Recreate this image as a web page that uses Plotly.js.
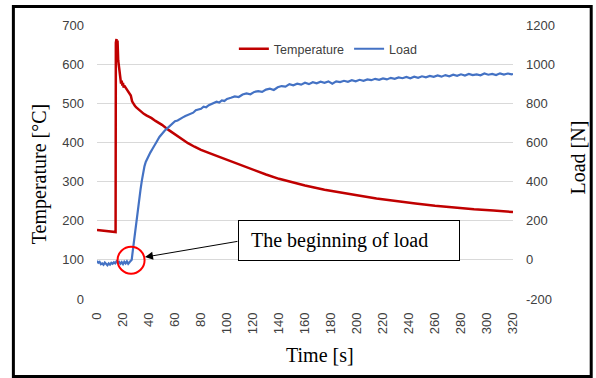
<!DOCTYPE html>
<html>
<head>
<meta charset="utf-8">
<script src="https://cdn.plot.ly/plotly-3.0.1.min.js"></script>
<style>html,body{margin:0;padding:0;background:#fff;}#chart{width:596px;height:378px;}</style>
</head>
<body>
<div id="chart"></div>
<script>
// Temperature series [°C] vs time [s]
const tempTime = [0, 5, 10, 14, 14.3, 14.5, 15, 15.4, 15.8, 16.3, 17, 17.5, 18, 18.5, 19, 19.5, 20, 20.5, 21, 22, 23, 24, 25, 26, 27, 28, 29, 30, 32, 34, 36, 38, 40, 42, 45, 50, 55, 60, 65, 70, 75, 80, 90, 100, 110, 120, 130, 140, 150, 160, 175, 190, 200, 215, 230, 245, 260, 275, 290, 305, 315, 320];
const tempValues = [176, 174, 172, 171, 171, 655, 664, 640, 660, 610, 585, 570, 560, 550, 558, 545, 552, 540, 545, 540, 535, 532, 528, 520, 505, 498, 494, 490, 484, 478, 473, 469, 466, 462, 455, 445, 432, 420, 408, 398, 389, 381, 368, 355, 342, 330, 318, 307, 298, 290, 279, 270, 265, 257, 250, 244, 238, 233, 229, 226, 223, 222];

// Load series [N] vs time [s]
const loadTime = [0, 1, 2, 3, 4, 5, 6, 7, 8, 9, 10, 11, 12, 13, 14, 15, 16, 17, 18, 19, 20, 21, 22, 23, 24, 25, 26, 26.7, 27.5, 28.5, 29.5, 30.5, 31.5, 32.5, 33.5, 34.5, 35.5, 36.5, 37.5, 38.5, 39.5, 41, 42.5, 44, 46, 48, 50, 52, 54, 56, 58, 60, 62, 64, 66, 68, 70, 72, 74, 76, 78, 80, 82, 84, 86, 88, 90, 92, 94, 96, 98, 100, 103, 106, 109, 112, 115, 118, 121, 124, 127, 130, 133, 136, 139, 142, 145, 148, 151, 154, 157, 160, 163, 166, 169, 172, 175, 178, 181, 184, 187, 190, 193, 196, 199, 202, 205, 208, 211, 214, 217, 220, 223, 226, 229, 232, 235, 238, 241, 244, 247, 250, 253, 256, 259, 262, 265, 268, 271, 274, 277, 280, 283, 286, 289, 292, 295, 298, 301, 304, 307, 310, 313, 316, 319, 320];
const loadValues = [-5, -15, -10, -22, -18, -25, -14, -20, -28, -18, -24, -15, -20, -12, -18, -8, -16, -10, -20, -12, -22, -10, -18, -8, -20, -12, -6, 0, 45, 100, 160, 220, 265, 306, 360, 405, 450, 478, 500, 515, 530, 548, 565, 585, 605, 628, 645, 660, 672, 685, 695, 708, 712, 722, 728, 735, 742, 748, 752, 765, 770, 772, 783, 780, 790, 795, 800, 808, 804, 815, 812, 822, 828, 835, 832, 845, 850, 846, 858, 862, 858, 870, 875, 868, 882, 888, 885, 898, 892, 900, 895, 905, 898, 908, 902, 910, 905, 912, 900, 912, 908, 915, 910, 918, 912, 920, 915, 922, 918, 925, 920, 927, 922, 930, 925, 932, 928, 935, 928, 936, 930, 938, 933, 940, 935, 942, 936, 944, 938, 946, 940, 948, 942, 950, 944, 948, 943, 952, 946, 950, 944, 953, 947, 952, 948, 950];

const xTicks = [0, 20, 40, 60, 80, 100, 120, 140, 160, 180, 200, 220, 240, 260, 280, 300, 320];
const yLeftTicks = [0, 100, 200, 300, 400, 500, 600, 700];
const yRightTicks = [-200, 0, 200, 400, 600, 800, 1000, 1200];
const seriesNames = ['Temperature', 'Load'];
const axisTitles = {x: 'Time [s]', yLeft: 'Temperature [°C]', yRight: 'Load [N]'};
const calloutText = 'The beginning of load';
// marked point (beginning of load): time, temperature-axis value
const markTime = 26.2, markTemp = 99;
const arrowTip = [36.9, 107];

const serif = 'Liberation Serif, Times New Roman, serif';
const sans = 'Liberation Sans, Arial, sans-serif';

const traces = [
  {x: tempTime, y: tempValues, name: seriesNames[0], type: 'scatter', mode: 'lines',
   line: {color: '#C00000', width: 2.5}, yaxis: 'y'},
  {x: loadTime, y: loadValues, name: seriesNames[1], type: 'scatter', mode: 'lines',
   line: {color: '#4472C4', width: 2.2}, yaxis: 'y2'}
];

const layout = {
  width: 596, height: 378,
  margin: {l: 97, r: 83, t: 25, b: 79, pad: 0},
  paper_bgcolor: '#fff', plot_bgcolor: '#fff',
  showlegend: true,
  legend: {orientation: 'h', x: 0.329, xanchor: 'left', y: 0.912, yanchor: 'middle',
           font: {family: sans, size: 12.5, color: '#404040'}, bgcolor: 'rgba(0,0,0,0)',
           traceorder: 'normal'},
  xaxis: {range: [0, 320], tickvals: xTicks, ticktext: xTicks.map(String), tickangle: -90,
          showgrid: false, zeroline: false, showline: false, ticks: '',
          ticklabelstandoff: 10,
          tickfont: {family: sans, size: 13, color: '#404040'}, fixedrange: true},
  yaxis: {range: [0, 700], tickvals: yLeftTicks, ticktext: yLeftTicks.map(String),
          showgrid: true, gridcolor: '#d9d9d9', gridwidth: 1,
          zeroline: false, showline: false, ticks: '', ticklabelstandoff: 12,
          tickfont: {family: sans, size: 13, color: '#404040'}},
  yaxis2: {range: [-200, 1200], tickvals: yRightTicks, ticktext: yRightTicks.map(String),
           overlaying: 'y', side: 'right', showgrid: false,
           zeroline: false, showline: false, ticks: '', ticklabelstandoff: 12,
           tickfont: {family: sans, size: 13, color: '#404040'}},
  annotations: [
    {text: axisTitles.x, xref: 'paper', yref: 'paper', x: 0.536, y: -0.204,
     xanchor: 'center', yanchor: 'middle', showarrow: false,
     font: {family: serif, size: 20, color: '#000'}},
    {text: axisTitles.yLeft, xref: 'paper', yref: 'paper', x: -0.139, y: 0.456,
     xanchor: 'center', yanchor: 'middle', showarrow: false, textangle: -90,
     font: {family: serif, size: 20, color: '#000'}},
    {text: axisTitles.yRight, xref: 'paper', yref: 'paper', x: 1.156, y: 0.516,
     xanchor: 'center', yanchor: 'middle', showarrow: false, textangle: -90,
     font: {family: serif, size: 20, color: '#000'}},
    // callout box
    {text: '\u00a0\u00a0' + calloutText, xref: 'x', yref: 'y', x: 193.8, y: 149.6,
     xanchor: 'center', yanchor: 'middle', showarrow: false, align: 'left',
     width: 216, height: 35, borderpad: 2, bordercolor: '#000', borderwidth: 1,
     bgcolor: '#fff', font: {family: serif, size: 20, color: '#000'}},
    // arrow
    {text: '', xref: 'x', yref: 'y', x: arrowTip[0], y: arrowTip[1], showarrow: true,
     ax: 94, ay: -16, arrowhead: 2, arrowsize: 1.6, arrowwidth: 1, arrowcolor: '#000', standoff: 0}
  ],
  shapes: [
    {type: 'circle', xref: 'x', yref: 'y', x0: markTime - 10.4, x1: markTime + 10.4,
     y0: markTemp - 34.5, y1: markTemp + 34.5, line: {color: '#FF0000', width: 2}},
    {type: 'rect', xref: 'paper', yref: 'paper', x0: -0.201, x1: 1.188, y0: -0.283, y1: 1.0675,
     line: {color: '#000', width: 3}, layer: 'above'}
  ]
};

Plotly.newPlot('chart', traces, layout, {staticPlot: true, displayModeBar: false});
</script>
</body>
</html>
